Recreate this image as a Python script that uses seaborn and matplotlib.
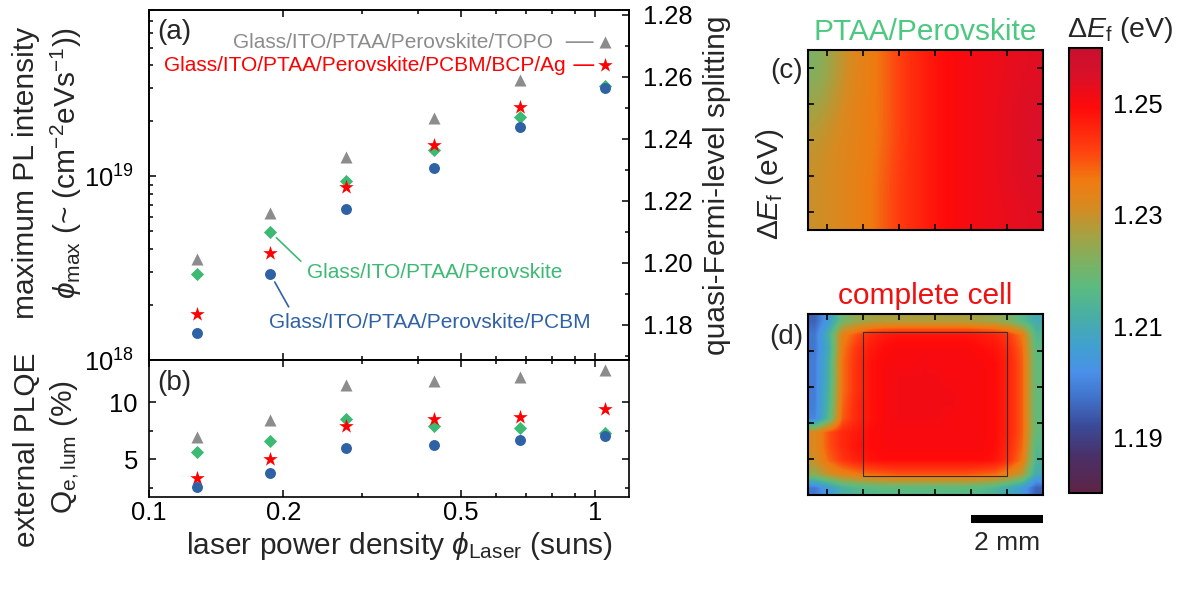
import numpy as np
import pandas as pd
import matplotlib
matplotlib.use("Agg")
import matplotlib.pyplot as plt
import seaborn as sns
from matplotlib.colors import LinearSegmentedColormap
from matplotlib.ticker import FixedLocator, FixedFormatter, NullFormatter, LogLocator, MultipleLocator
from matplotlib.patches import Rectangle

sns.set_theme(style="ticks")
plt.rcParams['font.family'] = ['Liberation Sans', 'DejaVu Sans']
plt.rcParams['mathtext.fontset'] = 'custom'
plt.rcParams['mathtext.rm'] = 'Liberation Sans'
plt.rcParams['mathtext.it'] = 'Liberation Sans:italic'
plt.rcParams['mathtext.bf'] = 'Liberation Sans:bold'
plt.rcParams['axes.edgecolor'] = 'black'
plt.rcParams['xtick.color'] = 'black'
plt.rcParams['ytick.color'] = 'black'

# ---------------- data ----------------
laser = [0.128, 0.187, 0.277, 0.435, 0.678, 1.05]
samples = ["Glass/ITO/PTAA/Perovskite/TOPO",
           "Glass/ITO/PTAA/Perovskite",
           "Glass/ITO/PTAA/Perovskite/PCBM/BCP/Ag",
           "Glass/ITO/PTAA/Perovskite/PCBM"]
pl_topo = [3.54e18, 6.3e18, 1.27e19, 2.07e19, 3.33e19, 5.35e19]
pl_pero = [2.93e18, 4.97e18, 9.4e18, 1.38e19, 2.09e19, 3.08e19]
pl_cell = [1.78e18, 3.81e18, 8.7e18, 1.47e19, 2.37e19, 4.01e19]
pl_pcbm = [1.40e18, 2.93e18, 6.6e18, 1.10e19, 1.85e19, 3.01e19]
plqe_topo = [6.90, 8.39, 11.49, 11.84, 12.19, 12.80]
plqe_pero = [5.59, 6.58, 8.51, 7.92, 7.69, 7.25]
plqe_cell = [3.36, 5.00, 7.87, 8.48, 8.71, 9.44]
plqe_pcbm = [2.52, 3.74, 5.94, 6.23, 6.69, 7.02]

x_ticks = [0.1, 0.2, 0.5, 1]
x_ticklabels = ["0.1", "0.2", "0.5", "1"]
qfls_ticks = [1.18, 1.20, 1.22, 1.24, 1.26, 1.28]
cbar_ticks = [1.19, 1.21, 1.23, 1.25]

# QFLS maps (eV), rows top->bottom
map_pero = [
    [1.221, 1.228, 1.233, 1.236, 1.241, 1.245, 1.248, 1.250, 1.251, 1.252, 1.253, 1.254],
    [1.225, 1.230, 1.234, 1.236, 1.241, 1.245, 1.248, 1.250, 1.251, 1.252, 1.254, 1.255],
    [1.229, 1.232, 1.234, 1.236, 1.241, 1.245, 1.248, 1.250, 1.251, 1.252, 1.254, 1.255],
    [1.230, 1.232, 1.234, 1.237, 1.242, 1.245, 1.248, 1.250, 1.251, 1.252, 1.254, 1.255],
    [1.230, 1.232, 1.234, 1.237, 1.242, 1.245, 1.248, 1.250, 1.251, 1.252, 1.253, 1.254],
]
map_cell = [
    [1.195, 1.205, 1.220, 1.224, 1.226, 1.227, 1.227, 1.227, 1.227, 1.227, 1.227, 1.227, 1.226, 1.225, 1.222, 1.216, 1.210],
    [1.198, 1.212, 1.234, 1.240, 1.245, 1.247, 1.248, 1.248, 1.248, 1.248, 1.248, 1.248, 1.247, 1.246, 1.243, 1.236, 1.215],
    [1.198, 1.210, 1.236, 1.243, 1.247, 1.249, 1.250, 1.250, 1.250, 1.250, 1.250, 1.250, 1.249, 1.248, 1.245, 1.238, 1.217],
    [1.199, 1.212, 1.237, 1.244, 1.248, 1.250, 1.250, 1.250, 1.251, 1.250, 1.250, 1.250, 1.250, 1.249, 1.246, 1.239, 1.218],
    [1.199, 1.212, 1.237, 1.244, 1.248, 1.250, 1.251, 1.251, 1.251, 1.251, 1.250, 1.250, 1.250, 1.249, 1.246, 1.239, 1.218],
    [1.199, 1.213, 1.237, 1.244, 1.248, 1.250, 1.251, 1.251, 1.251, 1.251, 1.251, 1.250, 1.250, 1.249, 1.246, 1.239, 1.218],
    [1.199, 1.214, 1.238, 1.245, 1.248, 1.250, 1.251, 1.251, 1.251, 1.251, 1.251, 1.250, 1.250, 1.249, 1.246, 1.239, 1.218],
    [1.200, 1.216, 1.239, 1.245, 1.248, 1.250, 1.251, 1.251, 1.251, 1.251, 1.250, 1.250, 1.250, 1.249, 1.246, 1.239, 1.218],
    [1.232, 1.240, 1.245, 1.247, 1.249, 1.250, 1.250, 1.250, 1.250, 1.250, 1.250, 1.250, 1.250, 1.249, 1.246, 1.239, 1.218],
    [1.232, 1.240, 1.245, 1.248, 1.249, 1.250, 1.250, 1.250, 1.250, 1.250, 1.250, 1.250, 1.250, 1.249, 1.245, 1.238, 1.216],
    [1.230, 1.238, 1.243, 1.246, 1.248, 1.249, 1.249, 1.249, 1.249, 1.249, 1.249, 1.249, 1.249, 1.248, 1.244, 1.236, 1.214],
    [1.224, 1.230, 1.234, 1.236, 1.238, 1.239, 1.240, 1.240, 1.240, 1.240, 1.240, 1.240, 1.239, 1.238, 1.234, 1.228, 1.210],
    [1.198, 1.205, 1.212, 1.215, 1.216, 1.217, 1.217, 1.217, 1.217, 1.217, 1.217, 1.217, 1.216, 1.214, 1.210, 1.205, 1.195],
]
cmap_vals = [1.180, 1.1865, 1.1919, 1.1967, 1.2016, 1.2063, 1.2124, 1.2171, 1.2219,
             1.2267, 1.2315, 1.2363, 1.2417, 1.2494, 1.2555, 1.260]
cmap_cols = ['#5e2445', '#4a3068', '#3a4a98', '#4070c8', '#4a90e8', '#40a0d0', '#4ab0a0',
             '#5cbb80', '#80b060', '#a8a040', '#d88a20', '#f07a10', '#ff4010', '#ff0a0a',
             '#d8102a', '#c8102e']

# ---------------- style ----------------
GRAY, GREEN, RED, BLUE = '#8c8c8c', '#3cba74', '#ff0000', '#2f62a5'
TICK = 18.4
LAB = 21.5
ANN = 15

W, H = 1182, 589
def rect(l, t, r, b):
    return [l / W, (H - b) / H, (r - l) / W, (b - t) / H]

fig = plt.figure(figsize=(W / 100, H / 100), dpi=100)
ax_a = fig.add_axes(rect(149, 10, 629, 360))
ax_b = fig.add_axes(rect(149, 360, 629, 497))
ax_c = fig.add_axes(rect(808, 50, 1043, 230))
ax_d = fig.add_axes(rect(808, 314, 1043, 495))
cax = fig.add_axes(rect(1069, 48, 1102, 493))

series = [("^", GRAY, 75, pl_topo, plqe_topo),
          ("D", GREEN, 45, pl_pero, plqe_pero),
          ("*", RED, 120, pl_cell, plqe_cell),
          ("o", BLUE, 62, pl_pcbm, plqe_pcbm)]

for ax in (ax_a, ax_b):
    ax.set_xscale('log')
ax_a.set_yscale('log')

for mk, col, s, pl, qe in series:
    sns.scatterplot(x=laser, y=pl, ax=ax_a, marker=mk, color=col, s=s, linewidth=0,
                    legend=False, zorder=3)
    sns.scatterplot(x=laser, y=qe, ax=ax_b, marker=mk, color=col, s=s, linewidth=0,
                    legend=False, zorder=3)

for ax in (ax_a, ax_b):
    ax.set_xlim(0.1, 1.19)
    ax.xaxis.set_major_locator(FixedLocator(x_ticks))
    ax.xaxis.set_minor_locator(FixedLocator([0.3, 0.4, 0.6, 0.7, 0.8, 0.9]))
    ax.xaxis.set_minor_formatter(NullFormatter())
    for sp in ax.spines.values():
        sp.set_linewidth(1.2)
        sp.set_color('black')
    ax.tick_params(which='both', direction='in', top=True, labelsize=TICK, width=1.1)
    ax.tick_params(which='major', length=5)
    ax.tick_params(which='minor', length=3)

ax_a.set_ylim(1e18, 8e19)
ax_a.yaxis.set_major_locator(LogLocator(base=10, numticks=10))
ax_a.yaxis.set_minor_locator(LogLocator(base=10, subs=np.arange(2, 10), numticks=20))
ax_a.yaxis.set_minor_formatter(NullFormatter())
ax_a.tick_params(which='both', right=False, labelbottom=False)
ax_a.tick_params(axis='y', pad=11)
ax_a.set_xticklabels([])

ax_r = ax_a.twinx()
ax_r.set_ylim(1.1686, 1.2816)
ax_r.yaxis.set_major_locator(FixedLocator(qfls_ticks))
ax_r.yaxis.set_major_formatter(FixedFormatter(["%.2f" % v for v in qfls_ticks]))
ax_r.yaxis.set_minor_locator(MultipleLocator(0.01))
ax_r.tick_params(which='both', direction='in', labelsize=TICK, width=1.1, pad=10)
ax_r.tick_params(which='major', length=5)
ax_r.tick_params(which='minor', length=3)
for sp in ax_r.spines.values():
    sp.set_linewidth(1.2)
    sp.set_color('black')

ax_b.set_ylim(1.67, 13.7)
ax_b.yaxis.set_major_locator(FixedLocator([5, 10]))
ax_b.yaxis.set_minor_locator(FixedLocator([2.5, 7.5]))
ax_b.tick_params(which='both', right=True)
ax_b.tick_params(axis='y', pad=8)
ax_b.xaxis.set_major_formatter(FixedFormatter(x_ticklabels))
ax_b.tick_params(axis='x', pad=3)
ax_a.set_xlabel("")
ax_b.set_xlabel("")
ax_a.set_ylabel("")
ax_b.set_ylabel("")

# annotations for series
ax_a.annotate(samples[0], xy=(laser[5], pl_topo[5]), xytext=(-37, 0), textcoords='offset points',
              ha='right', va='center', color=GRAY, fontsize=ANN,
              arrowprops=dict(arrowstyle='-', color=GRAY, lw=1.2, relpos=(1, 0.5), shrinkA=7, shrinkB=8.5))
ax_a.annotate(samples[2], xy=(laser[5], pl_cell[5]), xytext=(-28, 0), textcoords='offset points',
              ha='right', va='center', color=RED, fontsize=ANN,
              arrowprops=dict(arrowstyle='-', color=RED, lw=1.2, relpos=(1, 0.5), shrinkA=3.5, shrinkB=8))
ax_a.annotate(samples[1], xy=(laser[1], pl_pero[1]), xytext=(26.5, -29.5), textcoords='offset points',
              ha='left', va='center', color=GREEN, fontsize=ANN,
              arrowprops=dict(arrowstyle='-', color=GREEN, lw=1.2, relpos=(0, 0.8), shrinkA=3, shrinkB=6))
ax_a.annotate(samples[3], xy=(laser[1], pl_pcbm[1]), xytext=(-0.7, -34.5), textcoords='offset points',
              ha='left', va='center', color=BLUE, fontsize=ANN,
              arrowprops=dict(arrowstyle='-', color=BLUE, lw=1.2, relpos=(0.07, 1.0), shrinkA=2, shrinkB=6.5))

ax_a.text(0.017, 0.937, "(a)", transform=ax_a.transAxes, fontsize=20, va='center', ha='left')
ax_b.text(0.017, 0.83, "(b)", transform=ax_b.transAxes, fontsize=20, va='center', ha='left')

# axis labels (as figure text)
def ftext(x, y, s, **kw):
    fig.text(x / W, (H - y) / H, s, ha='center', va='center', **kw)

ftext(26, 173, "maximum PL intensity", rotation=90, fontsize=LAB)
ftext(66, 163, r"$\phi_\mathrm{max}$ (~ (cm$^{-2}$eVs$^{-1}$))", rotation=90, fontsize=LAB)
ftext(27, 450, "external PLQE", rotation=90, fontsize=LAB)
ftext(65, 447, r"Q$_\mathrm{e,lum}$ (%)", rotation=90, fontsize=LAB)
ftext(399, 546, r"laser power density $\phi_\mathrm{Laser}$ (suns)", fontsize=LAB)
ftext(717, 185, "quasi-Fermi-level splitting", rotation=90, fontsize=LAB)
ftext(770, 184, r"$\mathit{\Delta E}_\mathrm{f}$ (eV)", rotation=90, fontsize=LAB)

# ---------------- maps ----------------
vmin, vmax = 1.18, 1.26
nodes = [min(1.0, max(0.0, round((v - vmin) / (vmax - vmin), 4))) for v in cmap_vals]
nodes[0], nodes[-1] = 0.0, 1.0
cmap = LinearSegmentedColormap.from_list("qfls", list(zip(nodes, cmap_cols)))
mw = 235 / 36.0
mh_c = 5.0
mh_d = 181 / 36.0
im = ax_c.imshow(np.array(map_pero), cmap=cmap, vmin=vmin, vmax=vmax, extent=(0, mw, 0, mh_c),
                 aspect='auto', interpolation='bicubic')
ax_d.imshow(np.array(map_cell), cmap=cmap, vmin=vmin, vmax=vmax, extent=(0, mw, 0, mh_d),
            aspect='auto', interpolation='bilinear')
ax_d.add_patch(Rectangle((1.53, 0.53), 4.0, 4.0, fill=False, edgecolor='#303030', lw=0.8))

ax_c.set_xticks([0.53 + k for k in range(6)])
ax_c.set_yticks([0.5 + k for k in range(5)])
ax_d.set_xticks([0.53 + k for k in range(6)])
ax_d.set_yticks([1, 2, 3, 4])
for ax in (ax_c, ax_d):
    ax.tick_params(which='both', direction='in', top=True, right=True, length=4.5, width=1.2,
                   labelbottom=False, labelleft=False)
    for sp in ax.spines.values():
        sp.set_linewidth(1.5)
        sp.set_color('black')

ax_c.text(-0.02, 0.883, "(c)", transform=ax_c.transAxes, fontsize=20, ha='right', va='center')
ax_d.text(-0.02, 0.873, "(d)", transform=ax_d.transAxes, fontsize=20, ha='right', va='center')
ax_c.text(0.5, 1.1, "PTAA/Perovskite", transform=ax_c.transAxes, fontsize=LAB,
          ha='center', va='center', color='#4cc880')
ax_d.text(0.5, 1.1, "complete cell", transform=ax_d.transAxes, fontsize=LAB,
          ha='center', va='center', color='#ee1111')

# scale bar (2 mm)
ax_d.plot([mw - 2.0, mw], [-0.67, -0.67], color='black', lw=5.8, solid_capstyle='butt',
          clip_on=False, scalex=False, scaley=False)
ax_d.text(mw - 1.0, -1.33, "2 mm", fontsize=19, ha='center', va='center')
ax_c.set_xlim(0, mw)
ax_c.set_ylim(0, mh_c)
ax_d.set_xlim(0, mw)
ax_d.set_ylim(0, mh_d)

cb = fig.colorbar(im, cax=cax)
cb.set_ticks(cbar_ticks)
cb.set_ticklabels(["%.2f" % v for v in cbar_ticks])
cb.ax.tick_params(length=0, labelsize=TICK, pad=8)
cb.outline.set_linewidth(1.5)
cb.outline.set_edgecolor('black')
ftext(1120, 30, r"$\Delta E_\mathrm{f}$ (eV)", fontsize=20.5)

fig.savefig("out.png", dpi=100)
